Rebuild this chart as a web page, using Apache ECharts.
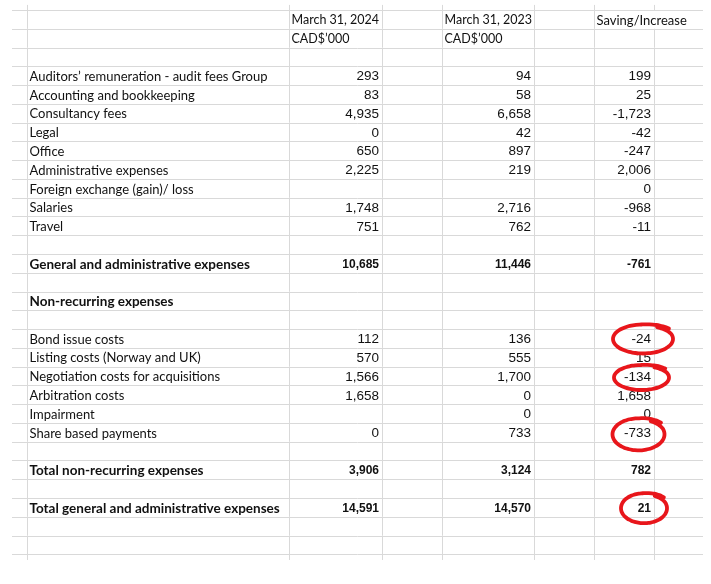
<!DOCTYPE html>
<html>
<head>
<meta charset="utf-8">
<script src="https://cdn.jsdelivr.net/npm/echarts@6/dist/echarts.min.js"></script>
<style>
html,body{margin:0;padding:0;background:#fff;}
#chart{width:711px;height:584px;}
</style>
</head>
<body>
<div id="chart"></div>
<script>
// ---------------- DATA ----------------
const rowLabels = [
  '', '', '',
  'Auditors’ remuneration - audit fees Group',
  'Accounting and bookkeeping',
  'Consultancy fees',
  'Legal',
  'Office',
  'Administrative expenses',
  'Foreign exchange (gain)/ loss',
  'Salaries',
  'Travel',
  '',
  'General and administrative expenses',
  '',
  'Non-recurring expenses',
  '',
  'Bond issue costs',
  'Listing costs (Norway and UK)',
  'Negotiation costs for acquisitions',
  'Arbitration costs',
  'Impairment',
  'Share based payments',
  '',
  'Total non-recurring expenses',
  '',
  'Total general and administrative expenses',
  '', ''
];
const boldRows = [13, 15, 24, 26];
const values2024 = [null,null,null, 293, 83, 4935, 0, 650, 2225, null, 1748, 751, null, 10685, null, null, null, 112, 570, 1566, 1658, null, 0, null, 3906, null, 14591, null, null];
const values2023 = [null,null,null, 94, 58, 6658, 42, 897, 219, null, 2716, 762, null, 11446, null, null, null, 136, 555, 1700, 0, 0, 733, null, 3124, null, 14570, null, null];
const savingIncrease = [null,null,null, 199, 25, -1723, -42, -247, 2006, 0, -968, -11, null, -761, null, null, null, -24, 15, -134, 1658, 0, -733, null, 782, null, 21, null, null];
const headerRow1 = ['March 31, 2024', 'March 31, 2023', 'Saving/Increase'];
const headerRow2 = ['CAD$’000', 'CAD$’000', ''];
const circledRows = [17, 19, 22, 26];   // rows highlighted in the Saving/Increase column

// ---------------- LAYOUT / STYLE ----------------
const COL_EDGES = [12, 27, 289, 382, 442, 534, 594, 654, 703];
const LABEL_COL = 1, COL_2024 = 2, COL_2023 = 4, COL_SAVE = 6;
const N_ROWS = rowLabels.length;           // 29 visible rows
const ROW_H = 18.77, TOP_Y = 10;
const Y_MIN = -0.5, Y_MAX = 30;
const GRID_COLOR = '#d9d9d9';
const LABEL_FONT = '"Lato", "Noto Sans", sans-serif';
const NUM_FONT = '"Liberation Sans", Arial, sans-serif';
// hand-drawn circle shapes: offset of centre from cell right edge, radii
const CIRCLE_SHAPES = [
  {dx: -11, dy: 0.5, rx: 30, ry: 14.5},
  {dx: -12.5, dy: 1.5, rx: 27.5, ry: 12.5},
  {dx: -15.5, dy: 2, rx: 26, ry: 16},
  {dx: -10, dy: 0.8, rx: 23, ry: 15}
];

// ---------------- BUILD ----------------
function fmt(v){ return v === null ? '' : v.toLocaleString('en-US'); }

const cells = [];
const headerCols = [COL_2024, COL_2023, COL_SAVE];
headerCols.forEach((c, i) => {
  if (headerRow1[i]) cells.push({col: c, row: 0, text: headerRow1[i], align: 'left', kind: 'header'});
  if (headerRow2[i]) cells.push({col: c, row: 1, text: headerRow2[i], align: 'left', kind: 'header'});
});
for (let r = 0; r < N_ROWS; r++) {
  const bold = boldRows.indexOf(r) >= 0;
  if (rowLabels[r]) cells.push({col: LABEL_COL, row: r, text: rowLabels[r], align: 'left', kind: 'label', bold});
  [[COL_2024, values2024], [COL_2023, values2023], [COL_SAVE, savingIncrease]].forEach(([c, arr]) => {
    if (arr[r] !== null) cells.push({col: c, row: r, text: fmt(arr[r]), align: 'right', kind: 'num', bold});
  });
}

// grid line segments: [x1, y1, x2, y2] in axis units
const lines = [];
for (let k = 0; k <= N_ROWS; k++) lines.push([COL_EDGES[0], k, COL_EDGES[COL_EDGES.length - 1], k]);
// header "Saving/Increase" overflows over the next column border in row 0
const hidden = {'7_0': true};
for (let e = 1; e < COL_EDGES.length - 1; e++) {
  lines.push([COL_EDGES[e], -0.27, COL_EDGES[e], 0]);
  for (let r = 0; r < N_ROWS; r++) {
    if (!hidden[e + '_' + r]) lines.push([COL_EDGES[e], r, COL_EDGES[e], r + 1]);
  }
  lines.push([COL_EDGES[e], N_ROWS, COL_EDGES[e], N_ROWS + 0.3]);
}

const circles = circledRows.map((r, i) => [COL_SAVE, r, i]);

const chart = echarts.init(document.getElementById('chart'), null, {renderer: 'canvas'});
const gridTop = TOP_Y + Y_MIN * ROW_H;
const gridHeight = (Y_MAX - Y_MIN) * ROW_H;

chart.setOption({
  backgroundColor: '#ffffff',
  animation: false,
  grid: {left: 0, right: 0, top: gridTop, height: gridHeight},
  xAxis: {type: 'value', min: 0, max: 711, show: false},
  yAxis: {type: 'value', min: Y_MIN, max: Y_MAX, inverse: true, show: false},
  series: [
    {
      type: 'custom', name: 'gridlines', silent: true,
      data: lines,
      renderItem: function (params, api) {
        const p1 = api.coord([api.value(0), api.value(1)]);
        const p2 = api.coord([api.value(2), api.value(3)]);
        const vert = Math.abs(p1[0] - p2[0]) < 0.1;
        const sx = vert ? Math.round(p1[0]) + 0.5 : 0;
        const y1 = vert ? p1[1] : Math.round(p1[1]) + 0.5;
        return {
          type: 'line',
          shape: vert ? {x1: sx, y1: p1[1], x2: sx, y2: p2[1]} : {x1: p1[0], y1: y1, x2: p2[0], y2: y1},
          style: {stroke: GRID_COLOR, lineWidth: 1}
        };
      }
    },
    {
      type: 'custom', name: 'cells', silent: true,
      data: cells.map((c, i) => [c.col, c.row, i]),
      renderItem: function (params, api) {
        const c = cells[api.value(2)];
        const left = api.coord([COL_EDGES[c.col], c.row + 0.5]);
        const right = api.coord([COL_EDGES[c.col + 1], c.row + 0.5]);
        let font;
        if (c.kind === 'num') font = (c.bold ? 'bold 12px ' : '13.5px ') + NUM_FONT;
        else if (c.kind === 'header') font = (c.col === COL_SAVE ? '13px ' : '12.5px ') + LABEL_FONT;
        else font = (c.bold ? 'bold 13.5px ' : '13px ') + LABEL_FONT;
        return {
          type: 'text',
          style: {
            text: c.text,
            x: c.align === 'right' ? right[0] - 3 : left[0] + 2.5,
            y: left[1] + 1,
            align: c.align,
            verticalAlign: 'middle',
            font: font,
            fill: '#111111'
          }
        };
      }
    },
    {
      type: 'custom', name: 'circles', silent: true,
      data: circles,
      renderItem: function (params, api) {
        const col = api.value(0), row = api.value(1), idx = api.value(2);
        const s = CIRCLE_SHAPES[idx];
        const edge = api.coord([COL_EDGES[col + 1], row + 0.5]);
        const cx = edge[0] + s.dx, cy = edge[1] + s.dy;
        const pts = [];
        const t0 = 40 * Math.PI / 180, span = 2 * Math.PI + 0.35;
        const n = 60;
        for (let i = 0; i <= n; i++) {
          const f = i / n;
          const t = t0 + span * f;
          const k = f < 0.12 ? 1.13 - f : (f > 0.9 ? 1.0 - (f - 0.9) * 0.6 : 1.0);
          pts.push([cx + s.rx * k * Math.cos(t), cy - s.ry * k * Math.sin(t)]);
        }
        return {
          type: 'polyline',
          shape: {points: pts, smooth: 0.3},
          style: {stroke: '#e8161b', lineWidth: 3.8, fill: null, lineCap: 'round', lineJoin: 'round'}
        };
      }
    }
  ]
});
</script>
</body>
</html>
